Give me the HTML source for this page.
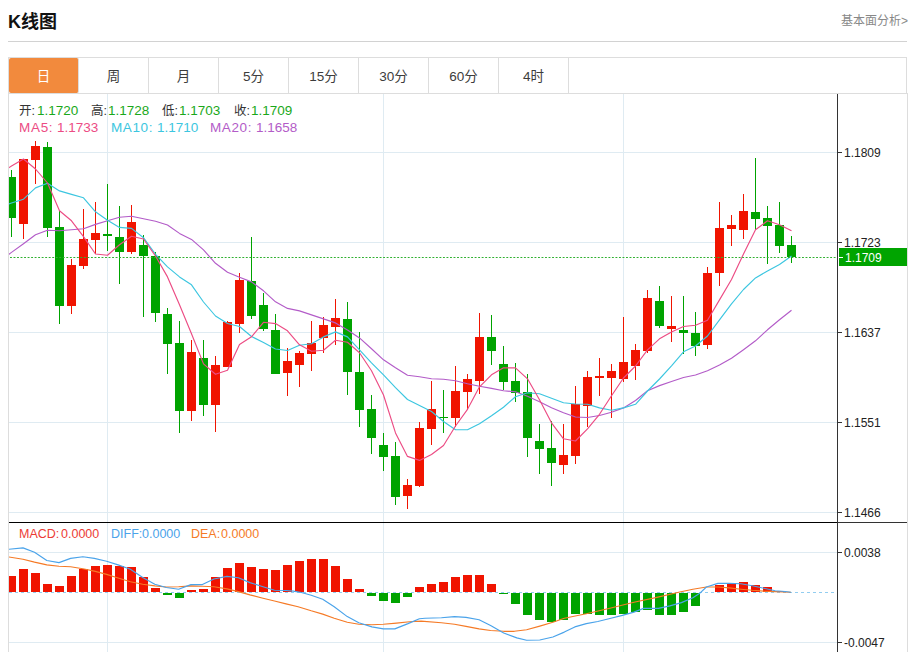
<!DOCTYPE html>
<html><head><meta charset="utf-8"><title>K线图</title>
<style>
*{margin:0;padding:0;box-sizing:border-box}
html,body{width:915px;height:652px;overflow:hidden;background:#fff}
body{position:relative;font-family:"Liberation Sans","Noto Sans CJK SC",sans-serif;color:#333}
.t{position:absolute;left:8px;top:10px;font-size:18px;font-weight:bold;color:#111;line-height:24px}
.more{position:absolute;right:7px;top:12.5px;font-size:12px;color:#888;line-height:16px}
.hr{position:absolute;left:8px;top:41px;width:899px;height:1px;background:#d2d2d2}
.tabs{position:absolute;left:8px;top:57px;width:899px;height:37px;border:1px solid #ddd;display:flex}
.tab{width:70px;height:35px;border-right:1px solid #ddd;text-align:center;font-size:13.5px;line-height:37px;color:#3c3c3c}
.tab.on{background:#f28a3d;color:#fff;border-radius:2px;border-right-color:#ddd}
.chart{position:absolute;left:8px;top:93px;width:900px;height:570px;border-left:1px solid #ddd;border-right:1px solid #ddd}
svg{position:absolute;left:0;top:0}
.ax{font-family:"Liberation Sans",sans-serif;font-size:12px;fill:#222}
.hd{position:absolute;font-size:13.5px;line-height:16px;white-space:nowrap}
.g{color:#1aa81a}
.k{color:#333;font-size:12.5px}
.m5{color:#ec4c84} .m10{color:#3cc6e0} .m20{color:#b35cc8}
.md{position:absolute;font-size:12.5px;line-height:16px;white-space:nowrap}
</style></head><body>
<div class="t">K线图</div>
<div class="more">基本面分析&gt;</div>
<div class="hr"></div>
<div class="tabs"><div class="tab on">日</div><div class="tab">周</div><div class="tab">月</div><div class="tab">5分</div><div class="tab">15分</div><div class="tab">30分</div><div class="tab">60分</div><div class="tab">4时</div></div>
<div class="chart"></div>
<svg width="915" height="652" viewBox="0 0 915 652">
<defs><clipPath id="cp"><rect x="9" y="94" width="828" height="558"/></clipPath></defs>
<rect x="9" y="152" width="828" height="1" fill="#dfebf2"/>
<rect x="9" y="242" width="828" height="1" fill="#dfebf2"/>
<rect x="9" y="332" width="828" height="1" fill="#dfebf2"/>
<rect x="9" y="422" width="828" height="1" fill="#dfebf2"/>
<rect x="9" y="512" width="828" height="1" fill="#dfebf2"/>
<rect x="9" y="552" width="828" height="1" fill="#dfebf2"/>
<rect x="9" y="642" width="828" height="1" fill="#dfebf2"/>
<rect x="107" y="94" width="1" height="558" fill="#dfebf2"/>
<rect x="383" y="94" width="1" height="558" fill="#dfebf2"/>
<rect x="623" y="94" width="1" height="558" fill="#dfebf2"/>
<g clip-path="url(#cp)">
<rect x="11" y="170" width="1" height="67" fill="#00a300"/>
<rect x="7" y="177" width="9" height="41" fill="#00a300"/>
<rect x="23" y="159" width="1" height="80" fill="#f01400"/>
<rect x="19" y="159" width="9" height="65" fill="#f01400"/>
<rect x="35" y="141" width="1" height="43" fill="#f01400"/>
<rect x="31" y="146" width="9" height="14" fill="#f01400"/>
<rect x="47" y="142" width="1" height="95" fill="#00a300"/>
<rect x="43" y="147" width="9" height="81" fill="#00a300"/>
<rect x="59" y="211" width="1" height="113" fill="#00a300"/>
<rect x="55" y="227" width="9" height="79" fill="#00a300"/>
<rect x="71" y="259" width="1" height="55" fill="#f01400"/>
<rect x="67" y="265" width="9" height="41" fill="#f01400"/>
<rect x="83" y="209" width="1" height="60" fill="#f01400"/>
<rect x="79" y="239" width="9" height="27" fill="#f01400"/>
<rect x="95" y="202" width="1" height="52" fill="#f01400"/>
<rect x="91" y="233" width="9" height="7" fill="#f01400"/>
<rect x="107" y="184" width="1" height="67" fill="#00a300"/>
<rect x="103" y="234" width="9" height="2" fill="#00a300"/>
<rect x="119" y="206" width="1" height="78" fill="#00a300"/>
<rect x="115" y="237" width="9" height="15" fill="#00a300"/>
<rect x="131" y="205" width="1" height="49" fill="#f01400"/>
<rect x="127" y="222" width="9" height="30" fill="#f01400"/>
<rect x="143" y="235" width="1" height="82" fill="#00a300"/>
<rect x="139" y="245" width="9" height="11" fill="#00a300"/>
<rect x="155" y="252" width="1" height="70" fill="#00a300"/>
<rect x="151" y="256" width="9" height="57" fill="#00a300"/>
<rect x="167" y="308" width="1" height="66" fill="#00a300"/>
<rect x="163" y="314" width="9" height="30" fill="#00a300"/>
<rect x="179" y="321" width="1" height="112" fill="#00a300"/>
<rect x="175" y="343" width="9" height="68" fill="#00a300"/>
<rect x="191" y="340" width="1" height="81" fill="#f01400"/>
<rect x="187" y="352" width="9" height="59" fill="#f01400"/>
<rect x="203" y="340" width="1" height="76" fill="#00a300"/>
<rect x="199" y="358" width="9" height="47" fill="#00a300"/>
<rect x="215" y="356" width="1" height="76" fill="#f01400"/>
<rect x="211" y="365" width="9" height="40" fill="#f01400"/>
<rect x="227" y="321" width="1" height="46" fill="#f01400"/>
<rect x="223" y="322" width="9" height="45" fill="#f01400"/>
<rect x="239" y="273" width="1" height="60" fill="#f01400"/>
<rect x="235" y="280" width="9" height="44" fill="#f01400"/>
<rect x="251" y="237" width="1" height="82" fill="#00a300"/>
<rect x="247" y="281" width="9" height="35" fill="#00a300"/>
<rect x="263" y="293" width="1" height="38" fill="#00a300"/>
<rect x="259" y="305" width="9" height="24" fill="#00a300"/>
<rect x="275" y="314" width="1" height="60" fill="#00a300"/>
<rect x="271" y="330" width="9" height="44" fill="#00a300"/>
<rect x="287" y="348" width="1" height="48" fill="#f01400"/>
<rect x="283" y="361" width="9" height="12" fill="#f01400"/>
<rect x="299" y="351" width="1" height="36" fill="#f01400"/>
<rect x="295" y="353" width="9" height="12" fill="#f01400"/>
<rect x="311" y="321" width="1" height="50" fill="#f01400"/>
<rect x="307" y="343" width="9" height="11" fill="#f01400"/>
<rect x="323" y="317" width="1" height="36" fill="#f01400"/>
<rect x="319" y="325" width="9" height="13" fill="#f01400"/>
<rect x="335" y="299" width="1" height="46" fill="#f01400"/>
<rect x="331" y="318" width="9" height="9" fill="#f01400"/>
<rect x="347" y="302" width="1" height="93" fill="#00a300"/>
<rect x="343" y="319" width="9" height="53" fill="#00a300"/>
<rect x="359" y="332" width="1" height="95" fill="#00a300"/>
<rect x="355" y="372" width="9" height="38" fill="#00a300"/>
<rect x="371" y="395" width="1" height="59" fill="#00a300"/>
<rect x="367" y="409" width="9" height="29" fill="#00a300"/>
<rect x="383" y="433" width="1" height="38" fill="#00a300"/>
<rect x="379" y="445" width="9" height="12" fill="#00a300"/>
<rect x="395" y="442" width="1" height="63" fill="#00a300"/>
<rect x="391" y="456" width="9" height="41" fill="#00a300"/>
<rect x="407" y="479" width="1" height="30" fill="#f01400"/>
<rect x="403" y="485" width="9" height="11" fill="#f01400"/>
<rect x="419" y="422" width="1" height="65" fill="#f01400"/>
<rect x="415" y="428" width="9" height="58" fill="#f01400"/>
<rect x="431" y="381" width="1" height="64" fill="#f01400"/>
<rect x="427" y="409" width="9" height="20" fill="#f01400"/>
<rect x="443" y="390" width="1" height="43" fill="#00a300"/>
<rect x="439" y="417" width="9" height="1" fill="#00a300"/>
<rect x="455" y="366" width="1" height="61" fill="#f01400"/>
<rect x="451" y="391" width="9" height="27" fill="#f01400"/>
<rect x="467" y="374" width="1" height="36" fill="#f01400"/>
<rect x="463" y="379" width="9" height="13" fill="#f01400"/>
<rect x="479" y="313" width="1" height="81" fill="#f01400"/>
<rect x="475" y="337" width="9" height="44" fill="#f01400"/>
<rect x="491" y="315" width="1" height="50" fill="#00a300"/>
<rect x="487" y="337" width="9" height="14" fill="#00a300"/>
<rect x="503" y="346" width="1" height="44" fill="#00a300"/>
<rect x="499" y="364" width="9" height="18" fill="#00a300"/>
<rect x="515" y="363" width="1" height="39" fill="#00a300"/>
<rect x="511" y="381" width="9" height="12" fill="#00a300"/>
<rect x="527" y="374" width="1" height="83" fill="#00a300"/>
<rect x="523" y="392" width="9" height="46" fill="#00a300"/>
<rect x="539" y="424" width="1" height="50" fill="#00a300"/>
<rect x="535" y="441" width="9" height="8" fill="#00a300"/>
<rect x="551" y="421" width="1" height="65" fill="#00a300"/>
<rect x="547" y="448" width="9" height="15" fill="#00a300"/>
<rect x="563" y="424" width="1" height="50" fill="#f01400"/>
<rect x="559" y="455" width="9" height="10" fill="#f01400"/>
<rect x="575" y="386" width="1" height="78" fill="#f01400"/>
<rect x="571" y="404" width="9" height="52" fill="#f01400"/>
<rect x="587" y="371" width="1" height="56" fill="#f01400"/>
<rect x="583" y="377" width="9" height="29" fill="#f01400"/>
<rect x="599" y="358" width="1" height="38" fill="#f01400"/>
<rect x="595" y="376" width="9" height="2" fill="#f01400"/>
<rect x="611" y="364" width="1" height="54" fill="#f01400"/>
<rect x="607" y="371" width="9" height="7" fill="#f01400"/>
<rect x="623" y="317" width="1" height="65" fill="#f01400"/>
<rect x="619" y="362" width="9" height="17" fill="#f01400"/>
<rect x="635" y="344" width="1" height="36" fill="#f01400"/>
<rect x="631" y="350" width="9" height="16" fill="#f01400"/>
<rect x="647" y="290" width="1" height="63" fill="#f01400"/>
<rect x="643" y="298" width="9" height="53" fill="#f01400"/>
<rect x="659" y="286" width="1" height="42" fill="#00a300"/>
<rect x="655" y="301" width="9" height="25" fill="#00a300"/>
<rect x="671" y="296" width="1" height="46" fill="#f01400"/>
<rect x="667" y="326" width="9" height="3" fill="#f01400"/>
<rect x="683" y="296" width="1" height="58" fill="#00a300"/>
<rect x="679" y="330" width="9" height="3" fill="#00a300"/>
<rect x="695" y="312" width="1" height="44" fill="#00a300"/>
<rect x="691" y="333" width="9" height="13" fill="#00a300"/>
<rect x="707" y="267" width="1" height="82" fill="#f01400"/>
<rect x="703" y="273" width="9" height="72" fill="#f01400"/>
<rect x="719" y="202" width="1" height="84" fill="#f01400"/>
<rect x="715" y="228" width="9" height="45" fill="#f01400"/>
<rect x="731" y="215" width="1" height="31" fill="#f01400"/>
<rect x="727" y="225" width="9" height="4" fill="#f01400"/>
<rect x="743" y="194" width="1" height="45" fill="#f01400"/>
<rect x="739" y="211" width="9" height="19" fill="#f01400"/>
<rect x="755" y="158" width="1" height="72" fill="#00a300"/>
<rect x="751" y="212" width="9" height="7" fill="#00a300"/>
<rect x="767" y="206" width="1" height="58" fill="#00a300"/>
<rect x="763" y="218" width="9" height="8" fill="#00a300"/>
<rect x="779" y="202" width="1" height="51" fill="#00a300"/>
<rect x="775" y="225" width="9" height="21" fill="#00a300"/>
<rect x="791" y="236" width="1" height="27" fill="#00a300"/>
<rect x="787" y="245" width="9" height="12" fill="#00a300"/>
</g>
<g clip-path="url(#cp)" fill="none" stroke-width="1.15" stroke-linejoin="round">
<polyline points="-0.5,261 11.5,252.4 23.5,243.7 35.5,234.7 47.5,230.2 59.5,230.8 71.5,229.8 83.5,228.8 95.5,224.4 107.5,220.8 119.5,217.2 131.5,216.2 143.5,218.8 155.5,221.2 167.5,225.0 179.5,233.4 191.5,239.4 203.5,249.9 215.5,263.3 227.5,272.3 239.5,277.3 251.5,281.9 263.5,290.8 275.5,301.8 287.5,308.4 299.5,310.9 311.5,314.9 323.5,318.9 335.5,322.9 347.5,329.9 359.5,337.9 371.5,348.8 383.5,359.8 395.5,367.8 407.5,375.2 419.5,376.8 431.5,378.7 443.5,379.2 455.5,380.8 467.5,383.8 479.5,386.2 491.5,388.4 503.5,390.8 515.5,391.8 527.5,396.2 539.5,401.7 551.5,407.7 563.5,412.7 575.5,417.0 587.5,417.5 599.5,415.5 611.5,412.3 623.5,407.9 635.5,400.5 647.5,390.8 659.5,385.6 671.5,381.5 683.5,377.5 695.5,375.0 707.5,370.7 719.5,365.1 731.5,358.3 743.5,349.7 755.5,340.8 767.5,329.8 779.5,319.8 791.5,310.2" stroke="#b35cc8"/>
<polyline points="-0.5,207 11.5,203.0 23.5,199.2 35.5,187.9 47.5,183.3 59.5,190.9 71.5,194.4 83.5,197.8 95.5,211.8 107.5,220.2 119.5,227.4 131.5,228.4 143.5,237.7 155.5,254.3 167.5,266.9 179.5,276.9 191.5,284.8 203.5,302.0 215.5,316.0 227.5,323.5 239.5,326.5 251.5,336.5 263.5,342.5 275.5,349.0 287.5,350.5 299.5,345.2 311.5,343.8 323.5,336.9 335.5,331.9 347.5,336.9 359.5,349.8 371.5,362.8 383.5,374.8 395.5,387.7 407.5,399.5 419.5,405.5 431.5,411.5 443.5,421.5 455.5,429.8 467.5,429.7 479.5,423.7 491.5,415.7 503.5,407.3 515.5,396.7 527.5,392.8 539.5,393.8 551.5,398.3 563.5,402.7 575.5,404.0 587.5,404.3 599.5,407.9 611.5,410.3 623.5,407.9 635.5,404.3 647.5,391.0 659.5,379.0 671.5,365.8 683.5,351.8 695.5,346.0 707.5,336.0 719.5,319.8 731.5,303.9 743.5,289.5 755.5,277.9 767.5,271.0 779.5,264.5 791.5,256.0" stroke="#3cc6e0"/>
<polyline points="-0.5,174 11.5,166.0 23.5,159.0 35.5,169.0 47.5,183.0 59.5,210.8 71.5,220.8 83.5,236.7 95.5,254.0 107.5,255.3 119.5,244.7 131.5,236.3 143.5,239.0 155.5,256.0 167.5,276.9 179.5,304.8 191.5,333.7 203.5,363.9 215.5,374.3 227.5,370.3 239.5,344.5 251.5,336.8 263.5,322.3 275.5,323.6 287.5,330.8 299.5,344.8 311.5,351.2 323.5,350.2 335.5,340.2 347.5,342.2 359.5,352.8 371.5,370.8 383.5,395.0 395.5,432.9 407.5,456.4 419.5,460.4 431.5,454.5 443.5,445.5 455.5,426.0 467.5,409.3 479.5,386.8 491.5,374.8 503.5,367.8 515.5,367.8 527.5,378.8 539.5,399.7 551.5,422.8 563.5,438.8 575.5,441.0 587.5,428.8 599.5,414.3 611.5,395.7 623.5,378.0 635.5,366.0 647.5,349.8 659.5,338.8 671.5,331.9 683.5,326.5 695.5,325.3 707.5,320.2 719.5,299.9 731.5,279.5 743.5,254.0 755.5,229.8 767.5,220.8 779.5,224.8 791.5,230.8" stroke="#ec4c84"/>
</g>
<line x1="9" y1="257.5" x2="836" y2="257.5" stroke="#30b030" stroke-width="1.2" stroke-dasharray="1.9,1.62" stroke-dashoffset="-1"/>
<line x1="9" y1="592.5" x2="834" y2="592.5" stroke="#92cdf0" stroke-width="1.2" stroke-dasharray="3,3"/>
<g clip-path="url(#cp)">
<rect x="7" y="576" width="9" height="16" fill="#f01400"/>
<rect x="19" y="569" width="9" height="23" fill="#f01400"/>
<rect x="31" y="573" width="9" height="19" fill="#f01400"/>
<rect x="43" y="584" width="9" height="8" fill="#f01400"/>
<rect x="55" y="586" width="9" height="6" fill="#f01400"/>
<rect x="67" y="576" width="9" height="16" fill="#f01400"/>
<rect x="79" y="569" width="9" height="23" fill="#f01400"/>
<rect x="91" y="566" width="9" height="26" fill="#f01400"/>
<rect x="103" y="565" width="9" height="27" fill="#f01400"/>
<rect x="115" y="566" width="9" height="26" fill="#f01400"/>
<rect x="127" y="567" width="9" height="25" fill="#f01400"/>
<rect x="139" y="577" width="9" height="15" fill="#f01400"/>
<rect x="151" y="588" width="9" height="4" fill="#f01400"/>
<rect x="163" y="593" width="9" height="2" fill="#00a300"/>
<rect x="175" y="593" width="9" height="5" fill="#00a300"/>
<rect x="187" y="590" width="9" height="2" fill="#f01400"/>
<rect x="199" y="589" width="9" height="3" fill="#f01400"/>
<rect x="211" y="577" width="9" height="15" fill="#f01400"/>
<rect x="223" y="568" width="9" height="24" fill="#f01400"/>
<rect x="235" y="563" width="9" height="29" fill="#f01400"/>
<rect x="247" y="567" width="9" height="25" fill="#f01400"/>
<rect x="259" y="569" width="9" height="23" fill="#f01400"/>
<rect x="271" y="570" width="9" height="22" fill="#f01400"/>
<rect x="283" y="565" width="9" height="27" fill="#f01400"/>
<rect x="295" y="561" width="9" height="31" fill="#f01400"/>
<rect x="307" y="559" width="9" height="33" fill="#f01400"/>
<rect x="319" y="559" width="9" height="33" fill="#f01400"/>
<rect x="331" y="566" width="9" height="26" fill="#f01400"/>
<rect x="343" y="579" width="9" height="13" fill="#f01400"/>
<rect x="355" y="589" width="9" height="3" fill="#f01400"/>
<rect x="367" y="593" width="9" height="3" fill="#00a300"/>
<rect x="379" y="593" width="9" height="8" fill="#00a300"/>
<rect x="391" y="593" width="9" height="10" fill="#00a300"/>
<rect x="403" y="593" width="9" height="4" fill="#00a300"/>
<rect x="415" y="587" width="9" height="5" fill="#f01400"/>
<rect x="427" y="584" width="9" height="8" fill="#f01400"/>
<rect x="439" y="582" width="9" height="10" fill="#f01400"/>
<rect x="451" y="577" width="9" height="15" fill="#f01400"/>
<rect x="463" y="575" width="9" height="17" fill="#f01400"/>
<rect x="475" y="575" width="9" height="17" fill="#f01400"/>
<rect x="487" y="584" width="9" height="8" fill="#f01400"/>
<rect x="499" y="593" width="9" height="1" fill="#00a300"/>
<rect x="511" y="593" width="9" height="11" fill="#00a300"/>
<rect x="523" y="593" width="9" height="22" fill="#00a300"/>
<rect x="535" y="593" width="9" height="27" fill="#00a300"/>
<rect x="547" y="593" width="9" height="29" fill="#00a300"/>
<rect x="559" y="593" width="9" height="27" fill="#00a300"/>
<rect x="571" y="593" width="9" height="21" fill="#00a300"/>
<rect x="583" y="593" width="9" height="21" fill="#00a300"/>
<rect x="595" y="593" width="9" height="22" fill="#00a300"/>
<rect x="607" y="593" width="9" height="22" fill="#00a300"/>
<rect x="619" y="593" width="9" height="21" fill="#00a300"/>
<rect x="631" y="593" width="9" height="19" fill="#00a300"/>
<rect x="643" y="593" width="9" height="17" fill="#00a300"/>
<rect x="655" y="593" width="9" height="22" fill="#00a300"/>
<rect x="667" y="593" width="9" height="22" fill="#00a300"/>
<rect x="679" y="593" width="9" height="19" fill="#00a300"/>
<rect x="691" y="593" width="9" height="13" fill="#00a300"/>
<rect x="715" y="585" width="9" height="7" fill="#f01400"/>
<rect x="727" y="584" width="9" height="8" fill="#f01400"/>
<rect x="739" y="582" width="9" height="10" fill="#f01400"/>
<rect x="751" y="585" width="9" height="7" fill="#f01400"/>
<rect x="763" y="587" width="9" height="5" fill="#f01400"/>
<rect x="775" y="591" width="9" height="1" fill="#f01400"/>
</g>
<g clip-path="url(#cp)" fill="none" stroke-width="1.15" stroke-linejoin="round">
<polyline points="8.3,556.9 23.0,559.2 34.5,562.1 46.8,564.9 59.0,566.2 70.6,566.7 82.9,568.7 94.3,571.1 106.6,574.4 118.1,578.0 130.4,581.8 142.7,584.3 154.8,585.9 166.3,587.0 178.6,586.7 190.9,585.9 202.4,586.2 213.9,586.7 227.0,588.9 238.4,591.6 249.9,594.9 263.0,598.2 274.5,601.0 286.0,603.9 298.1,606.7 311.2,610.8 322.7,614.1 334.2,618.2 347.3,622.3 358.8,624.3 371.9,624.8 383.4,624.3 396.5,623.1 409.6,621.8 421.1,621.1 441.4,622.8 454.5,624.3 466.0,626.4 479.1,628.9 490.6,630.5 503.7,631.3 514.3,631.3 526.6,629.7 539.8,626.1 552.9,622.3 564.3,618.2 586.3,613.8 610.9,608.0 633.9,602.3 656.8,597.4 679.8,592.0 692.9,589.2 706.4,587.0 717.9,587.0 729.3,587.9 740.8,589.2 752.3,590.3 763.8,591.1 775.2,591.6 790.8,592.3" stroke="#f57a26"/>
<polyline points="8.3,549.3 23.0,547.9 34.5,552.3 46.8,560.5 59.0,562.6 70.6,558.4 82.9,556.7 94.3,558.4 106.6,561.3 118.1,564.9 130.4,569.2 142.7,577.4 154.8,584.3 166.3,587.5 178.6,589.2 190.9,584.6 202.4,584.6 213.9,579.0 227.0,576.4 238.4,577.7 249.9,582.6 263.0,586.7 274.5,590.3 286.0,590.5 293.2,591.1 301.4,592.5 311.2,595.2 322.7,599.3 334.2,606.7 347.3,616.6 358.8,622.8 371.9,626.9 383.4,628.9 394.8,628.9 408.0,623.6 419.4,618.7 425.0,618.2 441.4,617.7 454.5,616.6 466.0,617.4 479.1,619.8 490.6,625.6 503.7,633.0 516.8,637.9 526.6,640.3 539.8,640.0 552.9,637.0 564.3,632.1 574.8,626.9 586.3,623.6 597.8,621.5 610.9,618.2 622.4,615.4 633.9,612.1 643.7,608.4 658.4,608.4 669.9,605.9 681.4,602.6 692.9,597.7 699.4,593.6 706.4,587.0 717.9,583.4 729.3,583.4 740.8,583.8 752.3,585.7 763.8,588.2 775.2,590.8 785.1,591.5 790.8,592.3" stroke="#4aa3ea"/>
</g>
<rect x="9" y="522" width="828" height="1" fill="#000"/>
<rect x="837" y="522" width="70" height="1" fill="#333"/>
<rect x="837" y="94" width="1" height="558" fill="#333"/>
<rect x="838" y="152" width="4" height="1" fill="#333"/>
<text x="844" y="156.5" class="ax">1.1809</text>
<rect x="838" y="242" width="4" height="1" fill="#333"/>
<text x="844" y="246.5" class="ax">1.1723</text>
<rect x="838" y="332" width="4" height="1" fill="#333"/>
<text x="844" y="336.5" class="ax">1.1637</text>
<rect x="838" y="422" width="4" height="1" fill="#333"/>
<text x="844" y="426.5" class="ax">1.1551</text>
<rect x="838" y="512" width="4" height="1" fill="#333"/>
<text x="844" y="516.5" class="ax">1.1466</text>
<rect x="838" y="552" width="4" height="1" fill="#333"/>
<text x="844" y="556.5" class="ax">0.0038</text>
<rect x="838" y="642" width="4" height="1" fill="#333"/>
<text x="844" y="646.5" class="ax">-0.0047</text>
<rect x="839" y="248" width="68" height="18" fill="#00a400"/>
<rect x="839" y="257" width="4" height="1" fill="#fff"/>
<text x="845" y="261.5" class="ax" style="fill:#fff">1.1709</text>
</svg>
<div class="hd k" style="left:19px;top:103px">开:</div><div class="hd g" style="left:37px;top:103px">1.1720</div>
<div class="hd k" style="left:91px;top:103px">高:</div><div class="hd g" style="left:108px;top:103px">1.1728</div>
<div class="hd k" style="left:162px;top:103px">低:</div><div class="hd g" style="left:179px;top:103px">1.1703</div>
<div class="hd k" style="left:234px;top:103px">收:</div><div class="hd g" style="left:251px;top:103px">1.1709</div>
<div class="hd m5" style="left:19px;top:120px;letter-spacing:0.7px">MA5:</div><div class="hd m5" style="left:57px;top:120px">1.1733</div>
<div class="hd m10" style="left:111px;top:120px;letter-spacing:0.6px">MA10:</div><div class="hd m10" style="left:157px;top:120px">1.1710</div>
<div class="hd m20" style="left:210px;top:120px;letter-spacing:0.6px">MA20:</div><div class="hd m20" style="left:256px;top:120px">1.1658</div>
<div class="md" style="left:19px;top:526px;color:#ec3b34">MACD:</div><div class="md" style="left:61px;top:526px;color:#ec3b34">0.0000</div>
<div class="md" style="left:111px;top:526px;color:#4aa3ea">DIFF:</div><div class="md" style="left:142px;top:526px;color:#4aa3ea">0.0000</div>
<div class="md" style="left:191px;top:526px;color:#f57a26">DEA:</div><div class="md" style="left:221px;top:526px;color:#f57a26">0.0000</div>
</body></html>
